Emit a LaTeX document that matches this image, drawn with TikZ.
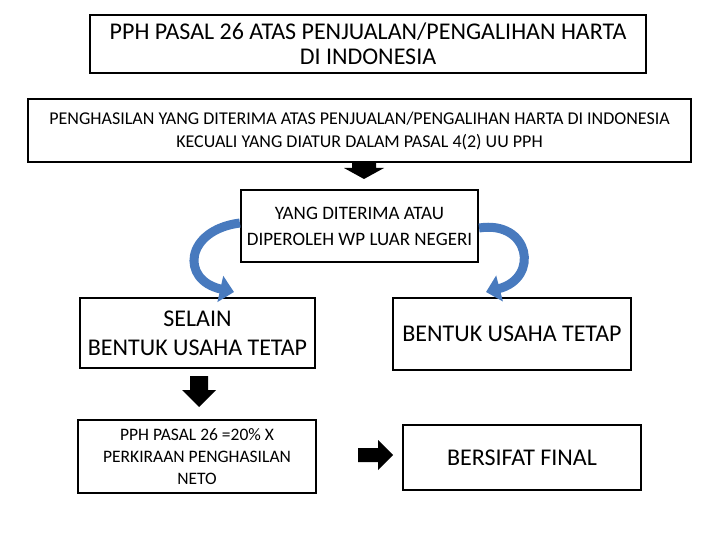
\documentclass[tikz,border=0pt]{standalone}
\usepackage{fontspec}
\setmainfont{Carlito}
\usetikzlibrary{arrows.meta}
\definecolor{arrblue}{RGB}{72,122,190}
\begin{document}
\begin{tikzpicture}[x=1pt,y=-1pt,
  bx/.style={draw,line width=2.2pt,inner sep=0pt,align=center},
  blk/.style={fill=black},
  curv/.style={draw=arrblue,line width=9pt,-{Triangle[length=14pt,width=26pt]}}]
\useasboundingbox (0,0) rectangle (720,540);
\node[bx,minimum width=556,minimum height=58,font=\fontsize{24}{25}\selectfont] (b1) at (368,44) {PPH PASAL 26 ATAS PENJUALAN/PENGALIHAN HARTA\\DI INDONESIA};
\node[bx,minimum width=663,minimum height=63,font=\fontsize{18}{23}\selectfont] (b2) at (359.5,130.5) {PENGHASILAN YANG DITERIMA ATAS PENJUALAN/PENGALIHAN HARTA DI INDONESIA\\KECUALI YANG DIATUR DALAM PASAL 4(2) UU PPH};
\node[bx,minimum width=237,minimum height=72,font=\fontsize{19}{26}\selectfont] (b3) at (359.5,226) {YANG DITERIMA ATAU\\DIPEROLEH WP LUAR NEGERI};
\node[bx,minimum width=235,minimum height=70,font=\fontsize{24}{29}\selectfont] (b4) at (197.5,333) {SELAIN\\BENTUK USAHA TETAP};
\node[bx,minimum width=238,minimum height=72,font=\fontsize{24}{29}\selectfont] (b5) at (512,334) {BENTUK USAHA TETAP};
\node[bx,minimum width=238,minimum height=73,font=\fontsize{17.5}{22}\selectfont] (b6) at (197,456.5) {PPH PASAL 26 =20\% X\\PERKIRAAN PENGHASILAN\\NETO};
\node[bx,minimum width=238,minimum height=65,font=\fontsize{24}{29}\selectfont] (b7) at (522,457.5) {BERSIFAT FINAL};
% block arrows
\fill[blk] (352,163) -- (376,163) -- (376,168) -- (384,168) -- (364,179) -- (344,168) -- (352,168) -- cycle;
\fill[blk] (190,376) -- (208,376) -- (208,390) -- (216,390) -- (199,407) -- (182,390) -- (190,390) -- cycle;
\fill[blk] (358,448) -- (378,448) -- (378,440) -- (393,455) -- (378,470) -- (378,462) -- (358,462) -- cycle;
% curved arrows
\draw[curv] ([yshift=3pt]b3.west) .. controls (185,230) and (180,280) .. (234,292);
\draw[curv] ([yshift=-2pt]b3.east) .. controls (530,220) and (540,278) .. (486,292);
\end{tikzpicture}
\end{document}
